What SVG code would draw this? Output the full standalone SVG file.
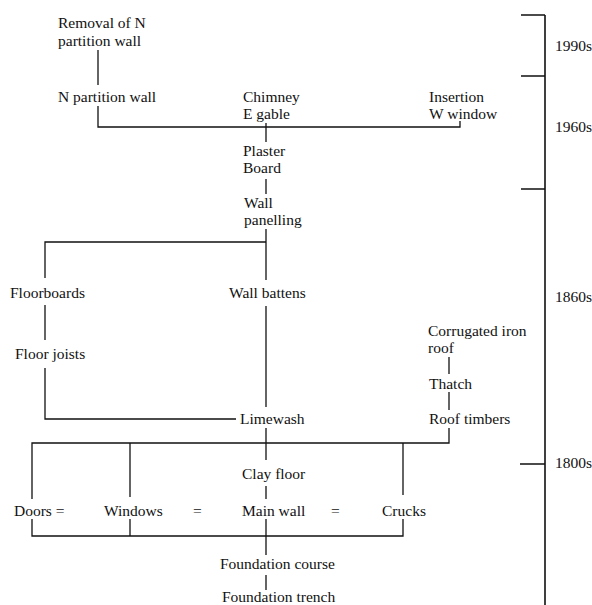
<svg xmlns="http://www.w3.org/2000/svg" width="592" height="605" viewBox="0 0 592 605">
  <style>
    .lbl { font-family: 'Liberation Serif', 'Times New Roman', serif; font-size: 15.5px; fill: #111; }
    .ln { stroke: #111; stroke-width: 1.3; fill: none; }
    .tl { stroke: #111; stroke-width: 1.6; fill: none; }
  </style>
  <rect width="592" height="605" fill="#fff"/>

  <!-- connectors -->
  <g id="connectors" class="ln">
    <path d="M98 50V85"/>
    <path d="M98 106V127H460V121"/>
    <path d="M266 123V142"/>
    <path d="M266 179V194"/>
    <path d="M266 229V280"/>
    <path d="M45 278V242H266"/>
    <path d="M45 305V340"/>
    <path d="M45 368V419H236"/>
    <path d="M266 306V407"/>
    <path d="M449 357V374"/>
    <path d="M449 392V410"/>
    <path d="M449 428V443H32V499"/>
    <path d="M130 443V497"/>
    <path d="M403 443V495"/>
    <path d="M266 428V460"/>
    <path d="M266 486V499"/>
    <path d="M32 519V536H403V519"/>
    <path d="M130 519V536"/>
    <path d="M266 519V555"/>
    <path d="M266 575V590"/>
  </g>

  <g class="lbl">
    <!-- period scale -->
    <g id="timeline">
      <path class="tl" d="M545 15V605M521 15H545M521 76H545M521 189H545M520 464H545"/>
      <text x="555" y="51">1990s</text>
      <text x="555" y="132">1960s</text>
      <text x="555" y="302">1860s</text>
      <text x="555" y="468">1800s</text>
    </g>

    <g id="removal-n-partition"><text x="58" y="28">Removal of N</text><text x="58" y="46">partition wall</text></g>
    <g id="n-partition-wall"><text x="58" y="102">N partition wall</text></g>
    <g id="chimney-e-gable"><text x="243" y="102">Chimney</text><text x="243" y="119">E gable</text></g>
    <g id="insertion-w-window"><text x="429" y="102">Insertion</text><text x="429" y="119">W window</text></g>
    <g id="plaster-board"><text x="243" y="156">Plaster</text><text x="243" y="173">Board</text></g>
    <g id="wall-panelling"><text x="244" y="208">Wall</text><text x="244" y="225">panelling</text></g>
    <g id="floorboards"><text x="10" y="298">Floorboards</text></g>
    <g id="wall-battens"><text x="229" y="298">Wall battens</text></g>
    <g id="floor-joists"><text x="15" y="359">Floor joists</text></g>
    <g id="corrugated-iron-roof"><text x="428" y="336">Corrugated iron</text><text x="428" y="353">roof</text></g>
    <g id="thatch"><text x="429" y="389">Thatch</text></g>
    <g id="limewash"><text x="240" y="424">Limewash</text></g>
    <g id="roof-timbers"><text x="429" y="424">Roof timbers</text></g>
    <g id="clay-floor"><text x="242" y="479">Clay floor</text></g>
    <g id="doors"><text x="14" y="516">Doors =</text></g>
    <g id="windows"><text x="104" y="516">Windows</text><text x="193" y="516">=</text></g>
    <g id="main-wall"><text x="242" y="516">Main wall</text><text x="331" y="516">=</text></g>
    <g id="crucks"><text x="382" y="516">Crucks</text></g>
    <g id="foundation-course"><text x="220" y="569">Foundation course</text></g>
    <g id="foundation-trench"><text x="222" y="602">Foundation trench</text></g>
  </g>
</svg>
